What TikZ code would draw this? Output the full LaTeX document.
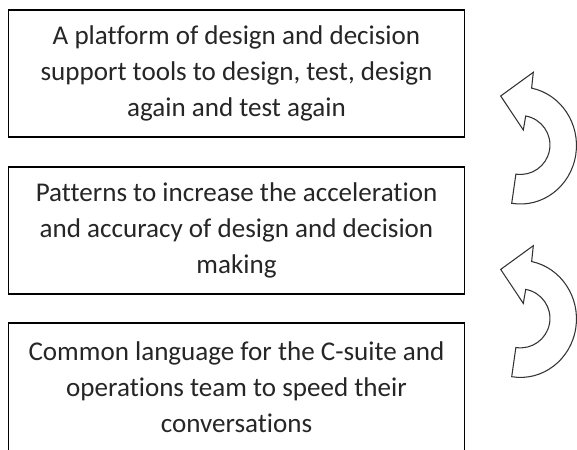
\documentclass[tikz,border=0pt]{standalone}
\usepackage{fontspec}
\setmainfont{Carlito}[Ligatures={NoCommon}]
\begin{document}
\begin{tikzpicture}[x=0.75pt,y=0.75pt,
  box/.style={draw=black, line width=1.4pt, fill=white,
    minimum width=342pt, inner sep=0pt, align=center,
    text=black!85, font=\fontsize{20.3}{27}\selectfont},
  cyclearrow/.style={draw=black!80, line width=0.8pt, fill=white, line join=miter}]
\useasboundingbox (0,0) rectangle (577,449);

% stacked statement boxes
\node[box, minimum height=95.25pt] (box1) at (236.5,375.5)
  {A platform of design and decision\\support tools to design, test, design\\again and test again};
\node[box, minimum height=95.25pt] (box2) at (236.5,218.5)
  {Patterns to increase the acceleration\\and accuracy of design and decision\\making};
\node[box, minimum height=96.75pt] (box3) at (236.5,61.5)
  {Common language for the C-suite and\\operations team to speed their\\conversations};

% curved feedback arrows beside the boxes
\foreach \dy/\nm in {0/upper, -173.4/lower}{
  \begin{scope}[yshift=\dy*0.75pt]
    \draw[cyclearrow]
      (533.3,376.7) -- (500.7,353) -- (523.3,319) -- (525.7,333)
      arc[start angle=79.8, end angle=-99, radius=22.1pt]
      -- (511.7,245.7)
      arc[start angle=-99, end angle=78.5, x radius=42pt, y radius=43.9pt]
      -- cycle;
  \end{scope}
}
\end{tikzpicture}
\end{document}
